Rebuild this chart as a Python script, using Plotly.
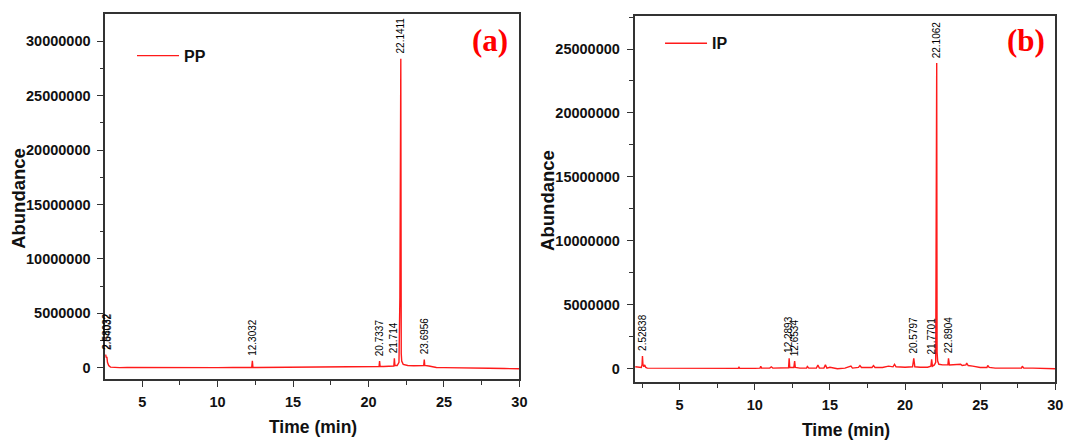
import plotly.graph_objects as go

# ---------------- data (abundance in counts) ----------------
pp_time = [2.55, 2.58, 2.62, 2.66, 2.70, 2.78, 2.9, 3.1, 3.5, 4.0,
           5.0, 6.0, 7.0, 8.0, 9.0, 10.0, 11.0, 12.0, 12.26, 12.3032,
           12.34, 12.6, 13.5, 14.0, 15.0, 16.0, 17.0, 18.0, 19.0, 19.5,
           20.0, 20.5, 20.70, 20.7337, 20.77, 21.0, 21.3, 21.6, 21.68, 21.714,
           21.75, 21.9, 22.02, 22.08, 22.11, 22.1411, 22.17, 22.2, 22.3, 22.6,
           23.0, 23.4, 23.66, 23.6956, 23.73, 24.0, 24.3, 24.5, 25.0, 26.0,
           27.0, 28.0, 29.0, 30.0]
pp_abund = [1.0e6, 1.2e6, 0.9e6, 1.0e6, 0.5e6, 0.2e6, 0.05e6, 0.02e6, 0.0, 0.01e6,
            0.0, 0.0, 0.01e6, 0.0, 0.0, 0.0, 0.01e6, 0.01e6, 0.01e6, 0.62e6,
            0.01e6, 0.01e6, 0.02e6, 0.01e6, 0.02e6, 0.02e6, 0.03e6, 0.03e6, 0.05e6, 0.05e6,
            0.07e6, 0.08e6, 0.1e6, 0.6e6, 0.1e6, 0.1e6, 0.1e6, 0.12e6, 0.15e6, 0.85e6,
            0.2e6, 0.2e6, 0.5e6, 6.5e6, 21.0e6, 28.4e6, 1.3e6, 0.6e6, 0.3e6, 0.2e6,
            0.18e6, 0.18e6, 0.2e6, 0.75e6, 0.2e6, 0.15e6, 0.05e6, 0.02e6, 0.0, 0.0,
            -0.02e6, -0.05e6, -0.08e6, -0.1e6]

ip_time = [2.05, 2.3, 2.45, 2.50, 2.52838, 2.56, 2.62, 2.68, 2.75, 2.85,
           3.0, 3.5, 4.0, 5.0, 6.0, 7.0, 8.0, 8.9, 8.95, 9.0,
           10.0, 10.35, 10.4, 10.45, 11.0, 11.1, 11.2, 12.0, 12.25, 12.2893,
           12.33, 12.45, 12.6, 12.6534, 12.7, 13.0, 13.45, 13.5, 13.6, 14.1,
           14.2, 14.3, 14.6, 14.7, 14.8, 15.0, 15.5, 16.0, 16.4, 16.5,
           16.9, 17.0, 17.1, 17.8, 17.9, 18.0, 18.5, 18.9, 19.2, 19.3,
           19.4, 20.0, 20.5, 20.5797, 20.65, 21.0, 21.5, 21.72, 21.7701, 21.82,
           21.95, 22.04, 22.07, 22.1062, 22.13, 22.17, 22.25, 22.5, 22.85, 22.8904,
           22.95, 23.3, 23.7, 23.8, 24.05, 24.1, 24.2, 24.5, 25.0, 25.45,
           25.5, 25.6, 26.0, 26.8, 27.0, 27.75, 27.8, 27.9, 28.5, 29.0,
           30.0]
ip_abund = [0.15e6, 0.1e6, 0.1e6, 0.3e6, 1.0e6, 0.35e6, 0.15e6, 0.3e6, 0.1e6, 0.05e6,
            0.05e6, 0.02e6, 0.03e6, 0.02e6, 0.02e6, 0.03e6, 0.02e6, 0.03e6, 0.12e6, 0.03e6,
            0.03e6, 0.05e6, 0.2e6, 0.05e6, 0.05e6, 0.15e6, 0.05e6, 0.05e6, 0.08e6, 0.82e6,
            0.1e6, 0.1e6, 0.1e6, 0.6e6, 0.1e6, 0.05e6, 0.05e6, 0.18e6, 0.05e6, 0.05e6,
            0.28e6, 0.05e6, 0.05e6, 0.3e6, 0.05e6, 0.12e6, 0.0, 0.05e6, 0.2e6, 0.05e6,
            0.1e6, 0.25e6, 0.1e6, 0.1e6, 0.25e6, 0.1e6, 0.1e6, 0.2e6, 0.15e6, 0.35e6,
            0.15e6, 0.12e6, 0.15e6, 0.82e6, 0.15e6, 0.12e6, 0.12e6, 0.2e6, 0.74e6, 0.2e6,
            0.3e6, 0.5e6, 12.2e6, 23.9e6, 1.3e6, 0.6e6, 0.35e6, 0.3e6, 0.3e6, 0.82e6,
            0.3e6, 0.3e6, 0.35e6, 0.25e6, 0.3e6, 0.45e6, 0.25e6, 0.2e6, 0.1e6, 0.1e6,
            0.25e6, 0.1e6, 0.05e6, 0.05e6, 0.05e6, 0.05e6, 0.2e6, 0.05e6, 0.05e6, 0.03e6,
            0.0]

pp_peak_time = [2.58, 2.66, 12.3032, 20.7337, 21.714, 22.1411, 23.6956]
pp_peak_abund = [1.2e6, 1.2e6, 0.62e6, 0.6e6, 0.85e6, 28.4e6, 0.75e6]
pp_peak_labels = ["2.58032", "2.64032", "12.3032", "20.7337", "21.714", "22.1411", "23.6956"]

ip_peak_time = [2.52838, 12.2893, 12.6534, 20.5797, 21.7701, 22.1062, 22.8904]
ip_peak_abund = [1.0e6, 0.82e6, 0.6e6, 0.82e6, 0.74e6, 23.9e6, 0.82e6]
ip_peak_labels = ["2.52838", "12.2893", "12.6534", "20.5797", "21.7701", "22.1062", "22.8904"]

series_names = ["PP", "IP"]
panel_tags = ["(a)", "(b)"]
x_ticks = [5, 10, 15, 20, 25, 30]
y_ticks_a = [0, 5000000, 10000000, 15000000, 20000000, 25000000, 30000000]
y_ticks_b = [0, 5000000, 10000000, 15000000, 20000000, 25000000]

assert len(pp_time) == len(pp_abund)
assert len(ip_time) == len(ip_abund)

# ---------------- figure ----------------
W, H = 1070, 440
SANS = "Liberation Sans, Arial, sans-serif"
AXC = "#333333"
RED = "#ff1a1a"

fig = go.Figure()
fig.add_trace(go.Scatter(x=pp_time, y=pp_abund, mode="lines", name=series_names[0],
                         line=dict(color=RED, width=1.4), xaxis="x", yaxis="y",
                         legend="legend"))
fig.add_trace(go.Scatter(x=ip_time, y=ip_abund, mode="lines", name=series_names[1],
                         line=dict(color=RED, width=1.4), xaxis="x2", yaxis="y2",
                         legend="legend2"))

def bold(vals):
    return ["<b>%d</b>" % v for v in vals]

def xaxis_style(domain, rng, anchor):
    return dict(domain=domain, range=rng, anchor=anchor, showgrid=False, zeroline=False,
                showline=True, linecolor=AXC, linewidth=1.5, mirror=True,
                ticks="outside", ticklen=6, tickwidth=1.3, tickcolor=AXC,
                tickvals=x_ticks, ticktext=bold(x_ticks), ticklabelstandoff=3,
                tickfont=dict(family=SANS, size=14.5, color="#111"),
                minor=dict(ticks="outside", dtick=2.5, tick0=0, ticklen=3.5,
                           tickwidth=1.2, tickcolor=AXC))

def yaxis_style(domain, rng, anchor, vals):
    return dict(domain=domain, range=rng, anchor=anchor, showgrid=False, zeroline=False,
                showline=True, linecolor=AXC, linewidth=1.5, mirror=True,
                ticks="outside", ticklen=6, tickwidth=1.3, tickcolor=AXC,
                tickvals=vals, ticktext=bold(vals), ticklabelstandoff=4,
                tickfont=dict(family=SANS, size=14.5, color="#111"),
                minor=dict(ticks="outside", dtick=2500000, tick0=0, ticklen=3.5,
                           tickwidth=1.2, tickcolor=AXC))

fig.update_layout(
    width=W, height=H,
    margin=dict(l=0, r=0, t=0, b=0),
    paper_bgcolor="white", plot_bgcolor="white",
    xaxis=xaxis_style([106 / W, 523.3 / W], [2.55, 30], "y"),
    yaxis=yaxis_style([1 - 379.3 / H, 1 - 14.3 / H], [-1.07e6, 32.48e6], "x", y_ticks_a),
    xaxis2=xaxis_style([639.3 / W, 1063.3 / W], [2.0, 30], "y2"),
    yaxis2=yaxis_style([1 - 382.3 / H, 1 - 16 / H], [-1.06e6, 27.58e6], "x2", y_ticks_b),
    legend=dict(x=133 / W, y=1 - 55.7 / H, xanchor="left", yanchor="middle",
                bgcolor="rgba(0,0,0,0)", itemwidth=42,
                font=dict(family=SANS, size=16, color="#111", weight="bold")),
    legend2=dict(x=665 / W, y=1 - 43.3 / H, xanchor="left", yanchor="middle",
                 bgcolor="rgba(0,0,0,0)", itemwidth=42,
                 font=dict(family=SANS, size=16, color="#111", weight="bold")),
    showlegend=True,
)

annotations = []
# peak labels
for xs, ys, labs, xr, yr in [(pp_peak_time, pp_peak_abund, pp_peak_labels, "x", "y"),
                             (ip_peak_time, ip_peak_abund, ip_peak_labels, "x2", "y2")]:
    for xv, yv, lab in zip(xs, ys, labs):
        annotations.append(dict(x=xv, y=yv, xref=xr, yref=yr, text=lab, showarrow=False,
                                textangle=-90, xanchor="center", yanchor="bottom", yshift=3,
                                font=dict(family=SANS, size=10, color="#000")))
# panel tags
annotations.append(dict(x=494 / W, y=1 - 40 / H, xref="paper", yref="paper", text=panel_tags[0],
                        showarrow=False, xanchor="center", yanchor="middle",
                        font=dict(family="Liberation Serif, Times New Roman, serif", size=31,
                                  color="#ff0000", weight="bold")))
annotations.append(dict(x=1033.5 / W, y=1 - 40 / H, xref="paper", yref="paper", text=panel_tags[1],
                        showarrow=False, xanchor="center", yanchor="middle",
                        font=dict(family="Liberation Serif, Times New Roman, serif", size=31,
                                  color="#ff0000", weight="bold")))
# axis titles
for xc, yc in [(19, 198), (551, 200)]:
    annotations.append(dict(x=xc / W, y=1 - yc / H, xref="paper", yref="paper", text="Abundance",
                            showarrow=False, textangle=-90, xanchor="center", yanchor="middle",
                            font=dict(family=SANS, size=18.5, color="#111", weight="bold")))
for xc, yc in [(315, 427), (852, 430)]:
    annotations.append(dict(x=xc / W, y=1 - yc / H, xref="paper", yref="paper", text="Time (min)",
                            showarrow=False, xanchor="center", yanchor="middle",
                            font=dict(family=SANS, size=17.5, color="#111", weight="bold")))
fig.update_layout(annotations=annotations)

fig.write_html("out.html",
               config={"displayModeBar": False},
               post_script="document.body.style.margin='0px';"
                           "document.body.style.overflow='hidden';")
